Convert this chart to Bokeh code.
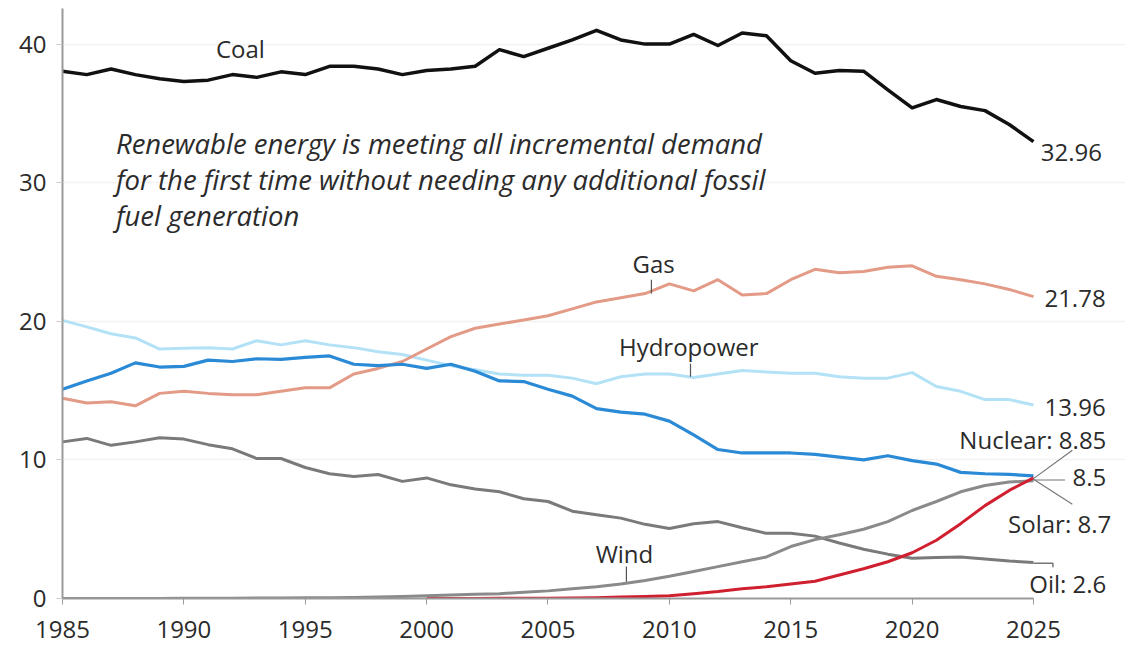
from bokeh.plotting import figure
from bokeh.models import Range1d, FixedTicker, Label
from bokeh.embed import file_html
from bokeh.resources import INLINE

years = list(range(1985, 2026))

coal = [38.05, 37.8, 38.2, 37.8, 37.5, 37.3, 37.4, 37.8, 37.6, 38.0, 37.8, 38.4, 38.4, 38.2,
        37.8, 38.1, 38.2, 38.4, 39.6, 39.1, 39.7, 40.3, 41.0, 40.3, 40.0, 40.0, 40.7, 39.9,
        40.8, 40.6, 38.8, 37.9, 38.1, 38.05, 36.7, 35.4, 36.0, 35.5, 35.2, 34.2, 32.96]
gas = [14.45, 14.1, 14.2, 13.9, 14.8, 14.95, 14.8, 14.7, 14.7, 14.95, 15.2, 15.2, 16.2, 16.6,
       17.1, 18.0, 18.9, 19.5, 19.8, 20.1, 20.4, 20.9, 21.4, 21.7, 22.0, 22.7, 22.2, 23.0,
       21.9, 22.0, 23.0, 23.75, 23.5, 23.6, 23.9, 24.0, 23.25, 23.0, 22.7, 22.3, 21.78]
hydro = [20.07, 19.6, 19.1, 18.8, 18.0, 18.05, 18.1, 18.0, 18.6, 18.3, 18.6, 18.3, 18.1, 17.8,
         17.6, 17.2, 16.8, 16.5, 16.2, 16.1, 16.1, 15.9, 15.5, 16.0, 16.2, 16.2, 15.95, 16.2,
         16.45, 16.35, 16.25, 16.25, 16.0, 15.9, 15.9, 16.3, 15.3, 14.95, 14.35, 14.35, 13.96]
nuclear = [15.1, 15.7, 16.25, 17.0, 16.7, 16.75, 17.2, 17.1, 17.3, 17.25, 17.4, 17.5, 16.9, 16.8,
           16.9, 16.6, 16.9, 16.4, 15.7, 15.65, 15.1, 14.6, 13.7, 13.45, 13.3, 12.8, 11.8, 10.75,
           10.5, 10.5, 10.5, 10.4, 10.2, 10.0, 10.3, 9.95, 9.7, 9.1, 9.0, 8.95, 8.85]
oil = [11.3, 11.55, 11.05, 11.3, 11.6, 11.5, 11.1, 10.8, 10.1, 10.1, 9.45, 9.0, 8.8, 8.95,
       8.45, 8.7, 8.2, 7.9, 7.7, 7.2, 7.0, 6.3, 6.05, 5.8, 5.35, 5.05, 5.4, 5.55,
       5.1, 4.7, 4.7, 4.5, 4.0, 3.55, 3.2, 2.9, 2.95, 3.0, 2.85, 2.7, 2.6]
wind = [0.0, 0.0, 0.0, 0.0, 0.0, 0.01, 0.02, 0.02, 0.03, 0.04, 0.05, 0.06, 0.08, 0.1,
        0.15, 0.2, 0.25, 0.3, 0.35, 0.45, 0.55, 0.7, 0.85, 1.05, 1.3, 1.6, 1.95, 2.3,
        2.65, 3.0, 3.75, 4.25, 4.6, 5.0, 5.55, 6.35, 7.0, 7.7, 8.15, 8.4, 8.5]
solar_years = list(range(2000, 2026))
solar = [0.0, 0.0, 0.0, 0.01, 0.01, 0.02, 0.03, 0.05, 0.1, 0.15, 0.2, 0.35, 0.5, 0.7,
         0.85, 1.05, 1.25, 1.7, 2.15, 2.65, 3.3, 4.2, 5.4, 6.7, 7.8, 8.7]

FONT = "Open Sans"
TXT = "#2b2b2b"

p = figure(width=1125, height=648, output_backend="svg", toolbar_location=None,
           x_range=Range1d(1985, 2028.79), y_range=Range1d(0, 42.57),
           min_border_left=62, min_border_right=0, min_border_top=8, min_border_bottom=50)
p.outline_line_color = None
p.background_fill_color = "white"
p.border_fill_color = "white"

p.xgrid.grid_line_color = None
p.ygrid.grid_line_color = "#f2f2f2"
p.ygrid.grid_line_width = 1.5
p.ygrid.bounds = (1985, 2025.3)

p.xaxis.ticker = FixedTicker(ticks=list(range(1985, 2026, 5)))
p.xaxis.bounds = (1985, 2025)
p.xaxis.axis_line_color = "#999999"
p.xaxis.axis_line_width = 2
p.xaxis.major_tick_line_color = "#999999"
p.xaxis.major_tick_out = 6
p.xaxis.major_tick_in = 0
p.xaxis.minor_tick_line_color = None
p.xaxis.major_label_standoff = 16
p.xaxis.major_label_text_font = FONT
p.xaxis.major_label_text_font_size = "24px"
p.xaxis.major_label_text_color = TXT

p.yaxis.ticker = FixedTicker(ticks=[0, 10, 20, 30, 40])
p.yaxis.axis_line_color = "#999999"
p.yaxis.axis_line_width = 2
p.yaxis.major_tick_line_color = "#cccccc"
p.yaxis.major_tick_out = 6
p.yaxis.major_tick_in = 0
p.yaxis.minor_tick_line_color = None
p.yaxis.major_label_standoff = 10
p.yaxis.major_label_text_font = FONT
p.yaxis.major_label_text_font_size = "24px"
p.yaxis.major_label_text_color = TXT

series = [
    (hydro, "#b3e2f7", 3),
    (gas, "#e39a86", 3),
    (oil, "#7a7a7a", 3),
    (wind, "#8a8a8a", 3),
    (nuclear, "#2b8ad6", 3.2),
    (coal, "#111111", 3.5),
]
for vals, col, w in series:
    p.line(years, vals, line_color=col, line_width=w, line_join="round")
p.line(solar_years, solar, line_color="#d01f2f", line_width=3, line_join="round")

def lab(x, y, t, align="left", size="24px", style="normal", baseline="middle"):
    p.add_layout(Label(x=x, y=y, text=t, text_align=align, text_baseline=baseline,
                       text_font=FONT, text_font_size=size, text_color=TXT,
                       text_font_style=style))

# series name labels with small ticks
lab(1992.33, 39.7, "Coal", align="center")
lab(2009.35, 24.2, "Gas", align="center")
p.segment([2009.26], [23.0], [2009.26], [gas[years.index(2009)]], line_color="#555555", line_width=1.2)
lab(2010.8, 18.15, "Hydropower", align="center")
p.segment([2010.87], [16.95], [2010.87], [hydro[years.index(2011)] + 0.05], line_color="#555555", line_width=1.2)
lab(2008.15, 3.25, "Wind", align="center")
p.segment([2008.23], [2.3], [2008.23], [wind[years.index(2008)] + 0.15], line_color="#555555", line_width=1.2)

# end values
end = 2025
lab(end + 0.3, coal[-1] - 0.8, f"{coal[-1]:.2f}")
lab(end + 0.45, gas[-1] - 0.15, f"{gas[-1]:.2f}")
lab(end + 0.45, hydro[-1] - 0.15, f"{hydro[-1]:.2f}")
lab(end + 3.0, 11.5, f"Nuclear: {nuclear[-1]:.2f}", align="right")
lab(end + 3.0, 8.7, f"{wind[-1]:g}", align="right")
lab(end + 3.2, 5.4, f"Solar: {solar[-1]:g}", align="right")
lab(end + 3.0, 1.1, f"Oil: {oil[-1]:g}", align="right")

lc = "#777777"
p.segment([end], [nuclear[-1] - 0.2], [end + 1.6], [10.7], line_color=lc, line_width=1.2)
p.segment([end], [wind[-1] + 0.05], [end + 1.3], [wind[-1] + 0.05], line_color=lc, line_width=1.2)
p.segment([end], [solar[-1] - 0.1], [end + 1.6], [6.8], line_color=lc, line_width=1.2)
p.line([end, end + 0.8, end + 0.8], [oil[-1] - 0.05, oil[-1] - 0.05, oil[-1] - 0.35], line_color=lc, line_width=1.5)

# italic note
note = ["Renewable energy is meeting all incremental demand",
        "for the first time without needing any additional fossil",
        "fuel generation"]
for i, t in enumerate(note):
    lab(1987.2, 32.8 - i * 2.6, t, style="italic", size="27.5px")

open("out.html", "w").write(file_html(p, INLINE))
